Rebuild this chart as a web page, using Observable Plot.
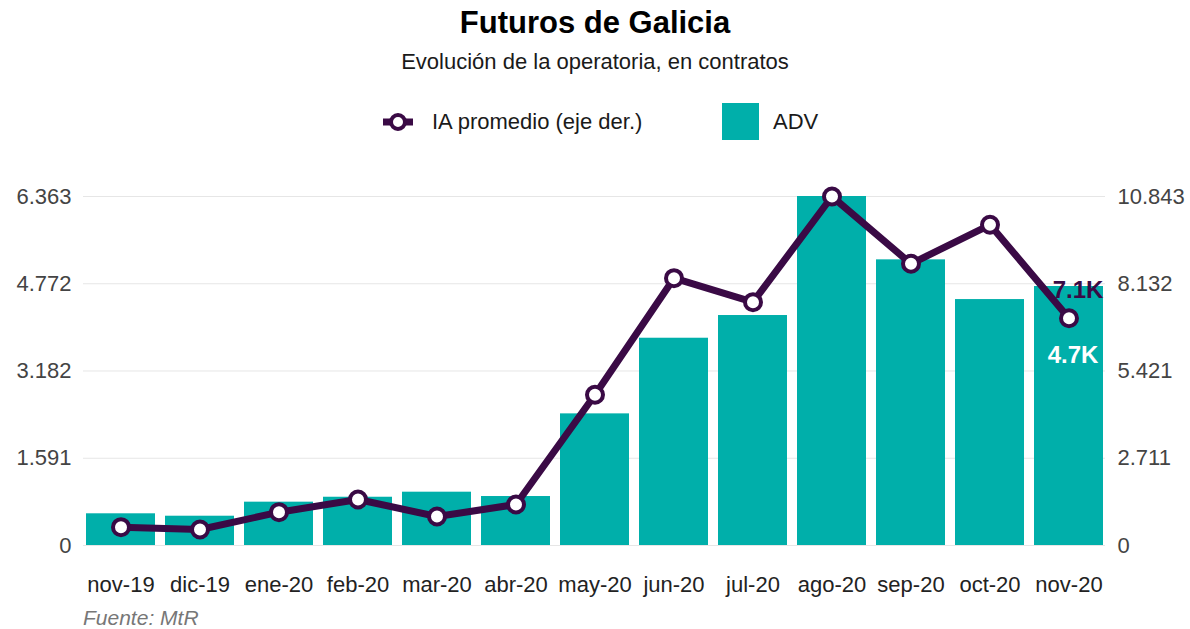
<!DOCTYPE html>
<html>
<head>
<meta charset="utf-8">
<script src="https://cdn.jsdelivr.net/npm/d3@7"></script>
<script src="https://cdn.jsdelivr.net/npm/@observablehq/plot@0.6"></script>
<style>
  html, body { margin: 0; padding: 0; background: #fff; }
  body { width: 1190px; height: 629px; position: relative; overflow: hidden; font-family: Arial, "Liberation Sans", sans-serif; }
  .title { position: absolute; top: 5px; left: 0; width: 1190px; text-align: center; font-size: 31px; font-weight: bold; color: #000; }
  .subtitle { position: absolute; top: 49px; left: 0; width: 1190px; text-align: center; font-size: 22px; color: #1a1a1a; }
  .legend { position: absolute; top: 103px; left: 0; width: 1190px; height: 38px; font-size: 22px; color: #1a1a1a; }
  .legend .item { position: absolute; top: 0; height: 38px; line-height: 38px; }
  #chart { position: absolute; top: 170px; left: 0; }
  .caption { position: absolute; top: 606px; left: 83px; font-size: 21px; font-style: italic; color: #777; }
</style>
</head>
<body>
<div class="title">Futuros de Galicia</div>
<div class="subtitle">Evolución de la operatoria, en contratos</div>
<div class="legend">
  <svg class="item" style="left:381px" width="34" height="38">
    <line x1="2" y1="19" x2="32" y2="19" stroke="#3a0a45" stroke-width="7"></line>
    <circle cx="17" cy="19" r="7" fill="#fff" stroke="#3a0a45" stroke-width="4"></circle>
  </svg>
  <div class="item" style="left:432px">IA promedio (eje der.)</div>
  <div class="item" style="left:722px;width:37px;height:37px;background:#00afaa"></div>
  <div class="item" style="left:773px">ADV</div>
</div>
<div id="chart"></div>
<div class="caption">Fuente: MtR</div>
<script>
const months = ["nov-19","dic-19","ene-20","feb-20","mar-20","abr-20","may-20","jun-20","jul-20","ago-20","sep-20","oct-20","nov-20"];
const adv = [578, 534, 790, 880, 972, 893, 2400, 3779, 4193, 6363, 5208, 4484, 4722];
const ia  = [569, 497, 1035, 1429, 901, 1274, 4682, 8305, 7560, 10843, 8752, 9964, 7062];
const leftTicks  = [0, 1591, 3182, 4772, 6363];
const rightTicks = [0, 2711, 5421, 8132, 10843];
const lastLabels = {ia: "7.1K", adv: "4.7K"};

const ratio = leftTicks[leftTicks.length - 1] / rightTicks[rightTicks.length - 1];
const fmt = d3.formatLocale({decimal: ",", thousands: ".", grouping: [3], currency: ["", ""]}).format(",d");
const data = months.map((m, i) => ({month: m, adv: adv[i], ia: ia[i], iaScaled: ia[i] * ratio}));
const last = data[data.length - 1];

const teal = "#00afaa";
const purple = "#3a0a45";

const chart = Plot.plot({
  width: 1190,
  height: 430,
  marginTop: 26,
  marginBottom: 55,
  marginLeft: 83,
  marginRight: 85,
  style: {fontFamily: 'Arial, "Liberation Sans", sans-serif', background: "transparent"},
  x: {domain: months, paddingInner: 0.13, paddingOuter: 0, label: null},
  y: {domain: [0, leftTicks[leftTicks.length - 1]], label: null},
  marks: [
    Plot.gridY(leftTicks, {stroke: "#e6e6e6", strokeOpacity: 1, strokeWidth: 1}),
    Plot.axisY(leftTicks, {anchor: "left", tickSize: 0, tickPadding: 12, tickFormat: fmt, fontSize: 22, fill: "#444", label: null}),
    Plot.axisY(rightTicks.map(d => d * ratio), {anchor: "right", tickSize: 0, tickPadding: 12, tickFormat: (d, i) => fmt(rightTicks[i]), fontSize: 22, fill: "#444", label: null}),
    Plot.axisX({tickSize: 0, tickPadding: 31, fontSize: 22, fill: "#222", label: null}),
    Plot.barY(data, {x: "month", y: "adv", fill: teal}),
    Plot.line(data, {x: "month", y: "iaScaled", stroke: purple, strokeWidth: 7, strokeLinejoin: "round"}),
    Plot.dot(data, {x: "month", y: "iaScaled", r: 8, fill: "#fff", stroke: purple, strokeWidth: 4}),
    Plot.text([last], {x: "month", y: "iaScaled", text: () => lastLabels.ia, dx: 9, dy: -28, fill: purple, fontSize: 24, fontWeight: "bold"}),
    Plot.text([last], {x: "month", y: "adv", text: () => lastLabels.adv, dx: 4, dy: 69, fill: "#fff", fontSize: 24, fontWeight: "bold"})
  ]
});
document.getElementById("chart").appendChild(chart);
</script>
</body>
</html>
